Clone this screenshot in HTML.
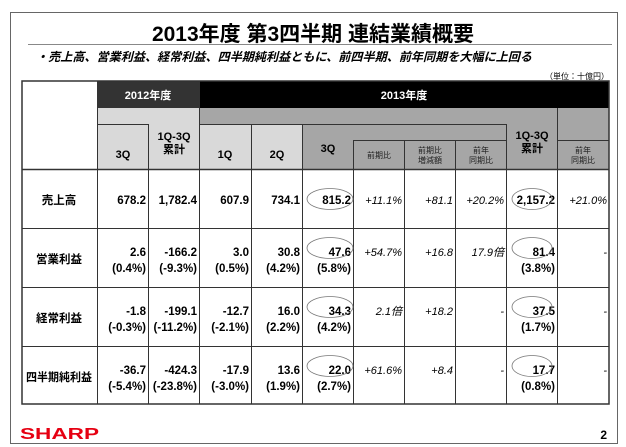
<!DOCTYPE html>
<html><head><meta charset="utf-8"><style>
html,body{margin:0;padding:0;background:#fff;}
svg{display:block;font-family:"Liberation Sans","Noto Sans CJK JP",sans-serif;}
.b{font-weight:bold;font-size:11.5px;fill:#000;}
.i{font-style:italic;font-size:11px;fill:#000;}
.h{font-size:11px;font-weight:bold;}
.s{font-size:8px;fill:#222;}
</style></head><body>
<svg width="626" height="447" viewBox="0 0 626 447">
<rect x="10.5" y="12.5" width="607" height="431" fill="none" stroke="#666" stroke-width="1"/>
<text x="313" y="41" text-anchor="middle" font-size="21" font-weight="bold">2013年度 第3四半期 連結業績概要</text>
<line x1="28" y1="44.5" x2="612" y2="44.5" stroke="#888" stroke-width="1"/>
<text x="36" y="61" font-size="12" font-weight="bold" font-style="italic" textLength="496" lengthAdjust="spacingAndGlyphs">・売上高、営業利益、経常利益、四半期純利益ともに、前四半期、前年同期を大幅に上回る</text>
<text x="609" y="79" text-anchor="end" font-size="8">（単位：十億円）</text>
<rect x="97" y="81" width="102" height="27" fill="#333"/>
<rect x="199" y="81" width="410" height="27" fill="#000"/>
<rect x="97" y="108" width="102" height="61" fill="#d9d9d9"/>
<rect x="199" y="108" width="410" height="61" fill="#a6a6a6"/>
<rect x="199" y="124" width="103" height="45" fill="#d9d9d9"/>
<text x="148" y="99" text-anchor="middle" class="h" fill="#fff">2012年度</text>
<text x="404" y="99" text-anchor="middle" class="h" fill="#fff">2013年度</text>
<g stroke="#333" stroke-width="1" fill="none">
<line x1="97" y1="124.5" x2="148" y2="124.5"/>
<line x1="199" y1="124.5" x2="506" y2="124.5"/>
<line x1="353" y1="140.5" x2="506" y2="140.5"/>
<line x1="557" y1="140.5" x2="609" y2="140.5"/>
<line x1="148.5" y1="124" x2="148.5" y2="404"/>
<line x1="251.5" y1="124" x2="251.5" y2="404"/>
<line x1="302.5" y1="124" x2="302.5" y2="404"/>
<line x1="353.5" y1="140" x2="353.5" y2="404"/>
<line x1="404.5" y1="140" x2="404.5" y2="404"/>
<line x1="455.5" y1="140" x2="455.5" y2="404"/>
<line x1="506.5" y1="124" x2="506.5" y2="404"/>
<line x1="557.5" y1="108" x2="557.5" y2="404"/>
<line x1="97.5" y1="81" x2="97.5" y2="404"/>
<line x1="199.5" y1="81" x2="199.5" y2="404"/>
<line x1="22" y1="169.5" x2="609" y2="169.5" stroke-width="1.5"/>
<line x1="22" y1="228.5" x2="609" y2="228.5"/>
<line x1="22" y1="287.5" x2="609" y2="287.5"/>
<line x1="22" y1="346.5" x2="609" y2="346.5"/>
<rect x="22" y="81" width="587" height="323" stroke-width="1.5"/>
</g>
<g class="h" text-anchor="middle" fill="#000">
<text x="123" y="158">3Q</text>
<text x="174" y="140">1Q-3Q</text><text x="174" y="153">累計</text>
<text x="225" y="158">1Q</text>
<text x="277" y="158">2Q</text>
<text x="328" y="152">3Q</text>
<text x="532" y="139">1Q-3Q</text><text x="532" y="152">累計</text>
</g>
<g class="s" text-anchor="middle">
<text x="379" y="158">前期比</text>
<text x="430" y="153">前期比</text><text x="430" y="163">増減額</text>
<text x="481" y="153">前年</text><text x="481" y="163">同期比</text>
<text x="583" y="153">前年</text><text x="583" y="163">同期比</text>
</g>
<g class="b" text-anchor="middle">
<text x="59" y="204">売上高</text>
<text x="59" y="263">営業利益</text>
<text x="59" y="322">経常利益</text>
<text x="26" y="381" text-anchor="start" textLength="66" lengthAdjust="spacingAndGlyphs">四半期純利益</text>
</g>
<g class="b" text-anchor="end">
<text x="146" y="204">678.2</text><text x="197" y="204">1,782.4</text><text x="249" y="204">607.9</text><text x="300" y="204">734.1</text><text x="351" y="204">815.2</text><text x="555" y="204">2,157.2</text>
<text x="146" y="256">2.6</text><text x="146" y="272">(0.4%)</text>
<text x="197" y="256">-166.2</text><text x="197" y="272">(-9.3%)</text>
<text x="249" y="256">3.0</text><text x="249" y="272">(0.5%)</text>
<text x="300" y="256">30.8</text><text x="300" y="272">(4.2%)</text>
<text x="351" y="256">47.6</text><text x="351" y="272">(5.8%)</text>
<text x="555" y="256">81.4</text><text x="555" y="272">(3.8%)</text>
<text x="146" y="315">-1.8</text><text x="146" y="331">(-0.3%)</text>
<text x="197" y="315">-199.1</text><text x="197" y="331">(-11.2%)</text>
<text x="249" y="315">-12.7</text><text x="249" y="331">(-2.1%)</text>
<text x="300" y="315">16.0</text><text x="300" y="331">(2.2%)</text>
<text x="351" y="315">34.3</text><text x="351" y="331">(4.2%)</text>
<text x="555" y="315">37.5</text><text x="555" y="331">(1.7%)</text>
<text x="146" y="374">-36.7</text><text x="146" y="390">(-5.4%)</text>
<text x="197" y="374">-424.3</text><text x="197" y="390">(-23.8%)</text>
<text x="249" y="374">-17.9</text><text x="249" y="390">(-3.0%)</text>
<text x="300" y="374">13.6</text><text x="300" y="390">(1.9%)</text>
<text x="351" y="374">22.0</text><text x="351" y="390">(2.7%)</text>
<text x="555" y="374">17.7</text><text x="555" y="390">(0.8%)</text>
</g>
<g class="i" text-anchor="end">
<text x="402" y="204">+11.1%</text><text x="453" y="204">+81.1</text><text x="504" y="204">+20.2%</text><text x="607" y="204">+21.0%</text>
<text x="402" y="256">+54.7%</text><text x="453" y="256">+16.8</text><text x="504" y="256">17.9倍</text><text x="607" y="256">-</text>
<text x="402" y="315">2.1倍</text><text x="453" y="315">+18.2</text><text x="504" y="315">-</text><text x="607" y="315">-</text>
<text x="402" y="374">+61.6%</text><text x="453" y="374">+8.4</text><text x="504" y="374">-</text><text x="607" y="374">-</text>
</g>
<g fill="none" stroke="#777" stroke-width="0.8">
<ellipse cx="330" cy="199" rx="23" ry="10.5"/>
<ellipse cx="330" cy="248" rx="23" ry="10.5"/>
<ellipse cx="330" cy="307" rx="23" ry="10.5"/>
<ellipse cx="330" cy="366" rx="23" ry="10.5"/>
<ellipse cx="532" cy="199" rx="20" ry="10.5"/>
<ellipse cx="532" cy="248" rx="20" ry="10.5"/>
<ellipse cx="532" cy="307" rx="20" ry="10.5"/>
<ellipse cx="532" cy="366" rx="20" ry="10.5"/>
</g>
<text x="20" y="439" font-size="16" font-weight="900" fill="#e60012" textLength="79" lengthAdjust="spacingAndGlyphs">SHARP</text>
<text x="607" y="439" text-anchor="end" font-size="12" font-weight="bold">2</text>
</svg>
</body></html>
